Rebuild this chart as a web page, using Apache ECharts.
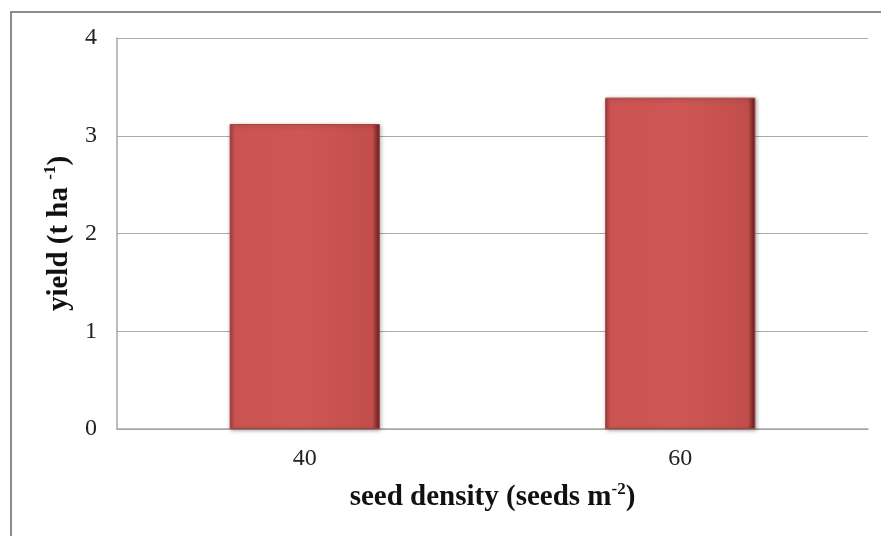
<!DOCTYPE html>
<html>
<head>
<meta charset="utf-8">
<style>
html,body{margin:0;padding:0;background:#fff;}
#chart{width:881px;height:536px;}
</style>
<script src="https://cdn.jsdelivr.net/npm/echarts@6/dist/echarts.min.js"></script>
</head>
<body>
<div id="chart"></div>
<script>
var categories = ['40', '60'];
var yieldValues = [3.12, 3.39];
var yTicks = { min: 0, max: 4, interval: 1 };

var chart = echarts.init(document.getElementById('chart'), null, { renderer: 'canvas' });
var serif = '"Liberation Serif", "Times New Roman", serif';

var barFill = new echarts.graphic.LinearGradient(0, 0, 1, 0, [
  { offset: 0, color: '#9e3b39' },
  { offset: 0.03, color: '#cb5452' },
  { offset: 0.5, color: '#cd5754' },
  { offset: 0.95, color: '#c24e4b' },
  { offset: 1, color: '#5e1d1c' }
]);

chart.setOption({
  animation: false,
  backgroundColor: '#fff',
  graphic: [{
    type: 'rect',
    shape: { x: 11, y: 12, width: 900, height: 600 },
    style: { fill: 'none', stroke: '#8c8c8c', lineWidth: 2 },
    silent: true,
    z: -10
  }],
  grid: { left: 117, right: 13, top: 38, bottom: 107, containLabel: false },
  xAxis: {
    type: 'category',
    data: categories,
    axisLine: { show: true, lineStyle: { color: '#a6a6a6', width: 1.5 } },
    axisTick: { show: false },
    axisLabel: { color: '#222', fontFamily: serif, fontSize: 24, margin: 18 },
    name: '{t|seed density (seeds m}{s|-2}{t|)}',
    nameLocation: 'middle',
    nameGap: 52,
    nameTextStyle: {
      rich: {
        t: { fontFamily: serif, fontSize: 29, fontWeight: 'bold', color: '#111', lineHeight: 34 },
        s: { fontFamily: serif, fontSize: 17, fontWeight: 'bold', color: '#111', lineHeight: 18, verticalAlign: 'top' }
      }
    }
  },
  yAxis: {
    type: 'value',
    min: yTicks.min,
    max: yTicks.max,
    interval: yTicks.interval,
    axisLine: { show: true, lineStyle: { color: '#a6a6a6', width: 1.5 } },
    axisTick: { show: false },
    splitLine: { show: true, lineStyle: { color: '#aaaaaa', width: 1.2 } },
    axisLabel: { color: '#222', fontFamily: serif, fontSize: 24, margin: 20 },
    name: '{t|yield (t ha }{s|-1}{t|)}',
    nameLocation: 'middle',
    nameRotate: 90,
    nameGap: 35,
    nameTextStyle: {
      rich: {
        t: { fontFamily: serif, fontSize: 29, fontWeight: 'bold', color: '#111', lineHeight: 34 },
        s: { fontFamily: serif, fontSize: 17, fontWeight: 'bold', color: '#111', lineHeight: 18, verticalAlign: 'top' }
      }
    }
  },
  series: [{
    type: 'bar',
    data: yieldValues,
    barWidth: '40%',
    itemStyle: {
      color: barFill,
      borderColor: '#a84240',
      borderWidth: 1,
      shadowColor: 'rgba(0,0,0,0.35)',
      shadowBlur: 4,
      shadowOffsetX: 1,
      shadowOffsetY: 1
    }
  }]
});
</script>
</body>
</html>
